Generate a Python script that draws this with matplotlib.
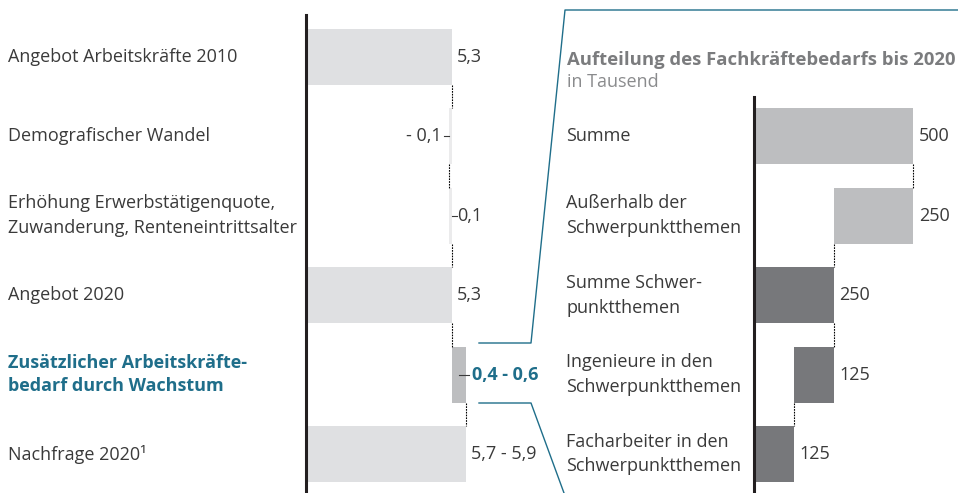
import matplotlib
matplotlib.use('Agg')
import matplotlib.pyplot as plt
from matplotlib.lines import Line2D
import matplotlib.transforms as mtransforms

plt.rcParams['font.family'] = ['Open Sans', 'DejaVu Sans']

W, H = 958, 493
fig = plt.figure('Fachkraefte', figsize=(W / 100, H / 100), dpi=100)

# left waterfall (Mio.)
left_labels = ['Angebot Arbeitskräfte 2010',
               'Demografischer Wandel',
               'Erhöhung Erwerbstätigenquote,\nZuwanderung, Renteneintrittsalter',
               'Angebot 2020',
               'Zusätzlicher Arbeitskräfte-\nbedarf durch Wachstum',
               'Nachfrage 2020¹']
left_values = [5.3, -0.1, 0.1, 5.3, 0.5, 5.8]
left_total = [True, False, False, True, False, True]
left_texts = ['5,3', '- 0,1', '0,1', '5,3', '0,4 - 0,6', '5,7 - 5,9']

# right waterfall (Tausend)
right_labels = ['Summe',
                'Außerhalb der\nSchwerpunktthemen',
                'Summe Schwer-\npunktthemen',
                'Ingenieure in den\nSchwerpunktthemen',
                'Facharbeiter in den\nSchwerpunktthemen']
right_values = [500, 250, 250, 125, 125]
right_start = [0, 250, 0, 125, 0]
right_texts = ['500', '250', '250', '125', '125']

TEXT = '#3a3a3a'
TEAL = '#1f6e8a'
LIGHT = '#dfe0e2'
PALE = '#ebebec'
MID = '#bdbec0'
DARK = '#77787b'
FS = 13
LSP = 1.48

def fx(px):
    return px / W

def fy(py):
    return 1 - py / H

# row geometry: row centers at 57 + 79.4*i (pixels from top)
row0, rowstep = 57, 79.4
def row_at(py):
    return (py - row0) / rowstep

bh = 56 / rowstep

def make_ax(left_px, right_px, top_px, px_per_unit):
    ax = fig.add_axes([fx(left_px), 0, (right_px - left_px) / W, (H - top_px) / H])
    ax.set_xlim(0, (right_px - left_px) / px_per_unit)
    ax.set_ylim(row_at(H), row_at(top_px))
    for s in ['top', 'right', 'bottom']:
        ax.spines[s].set_visible(False)
    ax.spines['left'].set_linewidth(2.2)
    ax.spines['left'].set_color('#231f20')
    ax.spines['left'].set_zorder(5)
    ax.set_xticks([])
    ax.set_yticks([])
    ax.patch.set_alpha(0)
    return ax

# ---------- left chart ----------
lpx = 27.55
axl = make_ax(306, 560, 15, lpx)
rows = list(range(len(left_values)))
starts, ends, levels = [], [], []
level = 0
for v, tot in zip(left_values, left_total):
    if tot:
        s, e, level = 0, v, v
    else:
        new = level + v
        s, e, level = min(level, new), max(level, new), new
    starts.append(s)
    ends.append(e)
    levels.append(level)
lcolors = [LIGHT, PALE, PALE, LIGHT, MID, LIGHT]
axl.barh(rows, [e - s for s, e in zip(starts, ends)], left=starts, height=bh,
         color=lcolors, zorder=2)
for i in range(len(rows) - 1):
    axl.plot([levels[i], levels[i]], [i + bh / 2, i + 1 - bh / 2], color='black',
             lw=0.8, ls=(0, (1.5, 1)), zorder=3)

d = lambda px: px / lpx
for i, t in enumerate(left_texts):
    if i == 1:
        axl.text(starts[i] - d(8), i, t, ha='right', va='center', fontsize=FS, color=TEXT)
        axl.plot([starts[i] - d(5), starts[i]], [i, i], color=TEXT, lw=0.8)
    elif i == 2:
        axl.plot([ends[i], ends[i] + d(5)], [i, i], color=TEXT, lw=0.8)
        axl.text(ends[i] + d(5), i, t, ha='left', va='center', fontsize=FS, color=TEXT)
    elif i == 4:
        axl.plot([ends[i] - d(7), ends[i] + d(3)], [i, i], color=TEXT, lw=0.8, zorder=4)
        axl.text(ends[i] + d(6), i, t, ha='left', va='center', fontsize=FS,
                 color=TEAL, fontweight='bold')
    else:
        axl.text(ends[i] + d(5), i, t, ha='left', va='center', fontsize=FS, color=TEXT)

lab_tr = mtransforms.blended_transform_factory(fig.transFigure, axl.transData)
for i, lab in enumerate(left_labels):
    bold = i == 4
    axl.text(fx(8), i, lab, transform=lab_tr, ha='left', va='center', fontsize=FS,
             color=TEAL if bold else TEXT, fontweight='bold' if bold else 'normal',
             linespacing=1.38 if bold else LSP)

# ---------- right chart ----------
rpx = 0.318
axr = make_ax(754, 958, 97, rpx)
rrows = [r + 1 for r in range(len(right_values))]
rcolors = [MID, MID, DARK, DARK, DARK]
axr.barh(rrows, right_values, left=right_start, height=bh, color=rcolors, zorder=2)
rends = [s + v for s, v in zip(right_start, right_values)]
for i in range(len(rrows) - 1):
    a = {right_start[i], rends[i]}
    b = {right_start[i + 1], rends[i + 1]}
    x = max(a & b)
    axr.plot([x, x], [rrows[i] + bh / 2, rrows[i + 1] - bh / 2], color='black',
             lw=0.8, ls=(0, (1.5, 1)), zorder=3)
for r, e, t in zip(rrows, rends, right_texts):
    axr.text(e + 6 / rpx, r, t, ha='left', va='center', fontsize=FS, color=TEXT)

rlab_tr = mtransforms.blended_transform_factory(fig.transFigure, axr.transData)
for r, lab in zip(rrows, right_labels):
    axr.text(fx(566), r, lab, transform=rlab_tr, ha='left', va='center',
             fontsize=FS, color=TEXT, linespacing=LSP)

fig.text(fx(567), fy(60), 'Aufteilung des Fachkräftebedarfs bis 2020', ha='left',
         va='center', fontsize=13.3, fontweight='bold', color='#7b7c7e')
fig.text(fx(567), fy(82), 'in Tausend', ha='left', va='center', fontsize=FS,
         color='#8a8b8d')

# teal zoom connector
top_line = [(479, 343), (531, 343), (565, 10), (958, 10)]
bot_line = [(479, 403), (531, 403), (564, 493)]
for pts in (top_line, bot_line):
    fig.add_artist(Line2D([fx(p[0]) for p in pts], [fy(p[1]) for p in pts],
                          transform=fig.transFigure, color=TEAL, lw=1.0))

fig.savefig('out.png', dpi=100)
